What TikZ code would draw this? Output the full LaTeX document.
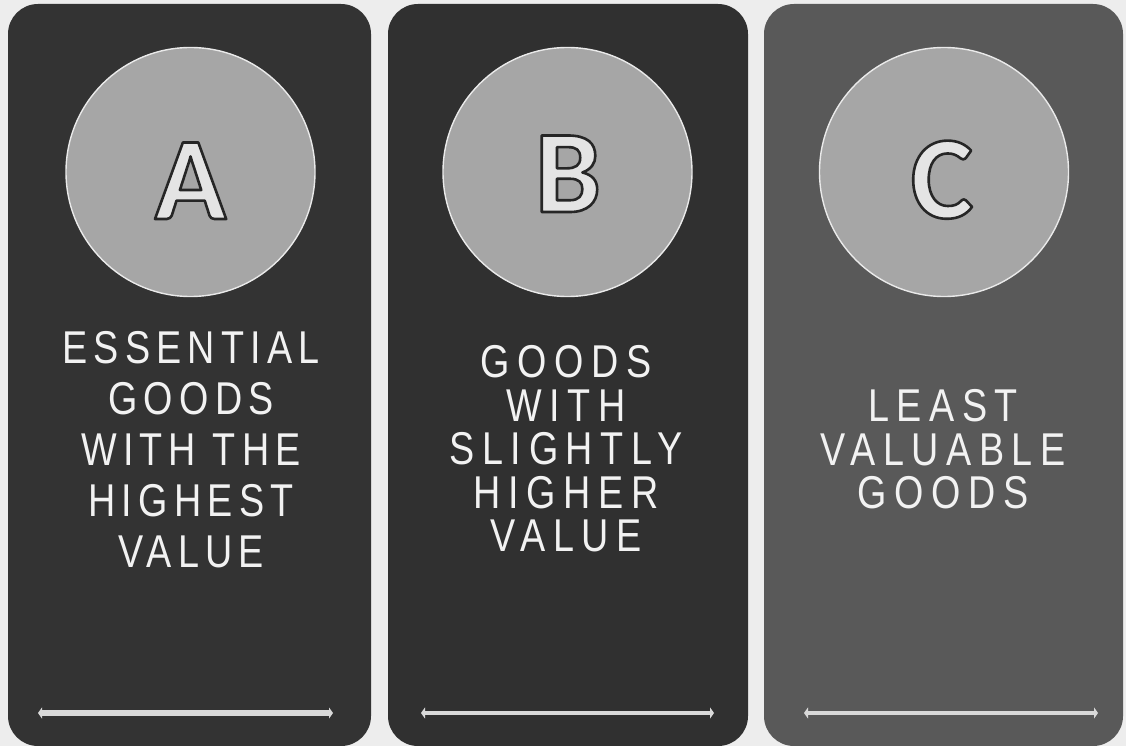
\documentclass[tikz,border=0pt]{standalone}
\usepackage{fontspec}
\setmainfont{Liberation Sans}
\newfontfamily\letterfont{Carlito}
\newfontfamily\labelfontA[FakeStretch=0.82,LetterSpace=13.5]{Liberation Sans}
\newfontfamily\labelfontB[FakeStretch=0.82,LetterSpace=16.5]{Liberation Sans}
\usetikzlibrary{arrows.meta}
\definecolor{bg}{HTML}{EDEDED}
\definecolor{darkpanel}{HTML}{333333}
\definecolor{darkpanelb}{HTML}{303030}
\definecolor{greypanel}{HTML}{595959}
\definecolor{discfill}{HTML}{A6A6A6}
\definecolor{discline}{HTML}{EAEAEA}
\definecolor{letterfill}{HTML}{E4E4E4}
\definecolor{labeltext}{HTML}{F2F2F2}
\definecolor{arrowcol}{HTML}{D9D9D9}
% outlined glyph: fill with text colour, stroke dark (PDF text render mode 2)
\newcommand{\outlinedglyph}[1]{\special{pdf:literal direct 0.15 0.15 0.15 RG 2.6 w 1 j 2 Tr}#1\special{pdf:literal direct 0 Tr}}
\tikzset{
  panel/.style={draw=none, rounded corners=30pt, minimum height=742pt, inner sep=0pt},
  disc/.style={circle, fill=discfill, draw=discline, line width=1.4pt, minimum size=249pt, inner sep=0pt},
  letterface/.style={text=letterfill, inner sep=0pt, anchor=base, font=\letterfont\bfseries\fontsize{118}{118}\selectfont},
  labelA/.style={text=labeltext, align=center, inner sep=0pt, font=\labelfontA\fontsize{46}{51}\selectfont},
  labelB/.style={text=labeltext, align=center, inner sep=0pt, font=\labelfontB\fontsize{46}{43.5}\selectfont},
  rangearrow/.style={draw=arrowcol, {Triangle[length=4pt,width=11pt]}-{Triangle[length=4pt,width=11pt]}},
}
\begin{document}
\begin{tikzpicture}[x=1pt,y=-1pt]
\fill[bg] (0,0) rectangle (1126,746);
\useasboundingbox (0,0) rectangle (1126,746);

% panels
\node[panel, fill=darkpanel, minimum width=363pt] (p1) at (189.5,375) {};
\node[panel, fill=darkpanelb, minimum width=360pt] (p2) at (568,375) {};
\node[panel, fill=greypanel, minimum width=359pt] (p3) at (943.5,375) {};

% discs
\node[disc] (c1) at (190.5,172) {};
\node[disc] (c2) at (567.5,172) {};
\node[disc] (c3) at (944,172) {};

% outlined letters
\node[letterface] (lA) at (190.5,219) {\outlinedglyph{A}};
\node[letterface] (lB) at (568,212) {\outlinedglyph{B}};
\node[letterface] (lC) at (942,218) {\outlinedglyph{C}};

% labels
\node[labelA] (t1) at (191,450) {ESSENTIAL\\GOODS\\WITH THE\\HIGHEST\\VALUE};
\node[labelB] (t2) at (566,449) {GOODS\\WITH\\SLIGHTLY\\HIGHER\\VALUE};
\node[labelB] (t3) at (943,449.5) {LEAST\\VALUABLE\\GOODS};

% range arrows
\coordinate (a1l) at (38,713);
\coordinate (a1r) at (333,713);
\coordinate (a2l) at (421,713);
\coordinate (a2r) at (714,713);
\coordinate (a3l) at (804,713);
\coordinate (a3r) at (1098,713);
\draw[rangearrow, line width=5.5pt] (a1l) -- (a1r);
\draw[rangearrow, line width=3.2pt] (a2l) -- (a2r);
\draw[rangearrow, line width=3.2pt] (a3l) -- (a3r);
\end{tikzpicture}
\end{document}
